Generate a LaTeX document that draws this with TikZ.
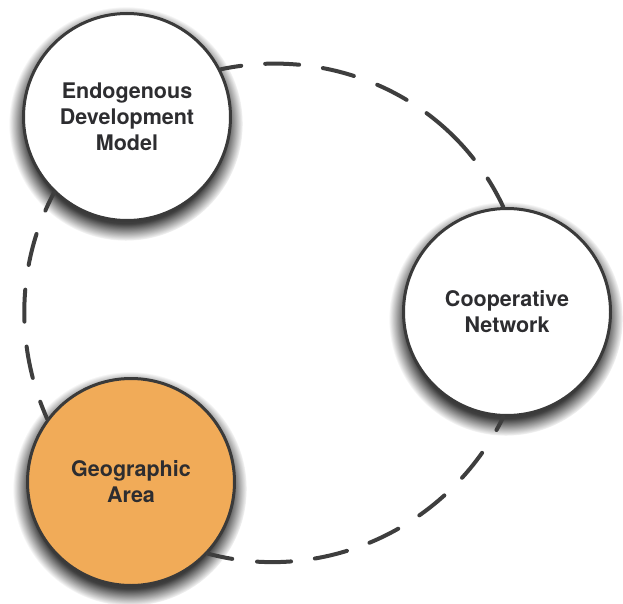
\documentclass[tikz,border=0pt]{standalone}
\usepackage{fontspec}
\setsansfont{TeX Gyre Heros}
\usetikzlibrary{shadows,fadings}
\definecolor{linec}{RGB}{58,58,58}
\definecolor{dashc}{RGB}{62,62,62}
\definecolor{textc}{RGB}{45,45,48}
\definecolor{orangec}{RGB}{241,171,88}
\tikzset{
  bubble/.style={circle, draw=linec, line width=3pt, minimum size=207pt,
    inner sep=0pt, fill=white, align=center, text=textc,
    font=\sffamily\bfseries\fontsize{21.5}{26}\selectfont,
    circular drop shadow={shadow scale=1.13, shadow xshift=-1pt,
      shadow yshift=-6pt, opacity=0.95, fill=black!80}},
  conn/.style={draw=dashc, line width=4pt, line cap=round},
}
\begin{document}
\begin{tikzpicture}[x=1pt,y=1pt]
\useasboundingbox (0,0) rectangle (623,-604);
\node[bubble] (edm) at (127,-117) {Endogenous\\Development\\Model};
\node[bubble] (cn) at (507,-312) {Cooperative\\Network};
\node[bubble, fill=orangec] (ga) at (131,-482) {Geographic\\Area};
% top arc
\draw[conn, dash pattern=on 21pt off 24pt on 34pt off 24pt on 32pt off 25pt on 33pt off 24pt on 66pt off 24pt on 60pt off 40pt]
  (edm.27) to[out=12, in=115, looseness=0.96] (cn.92);
% bottom arc
\draw[conn, dash pattern=on 25pt off 25pt on 34pt off 24pt on 33pt off 24pt on 32pt off 25pt on 32pt off 25pt on 32pt off 27pt on 40pt off 40pt]
  (ga.-43.5) to[out=-15, in=-116, looseness=0.96] (cn.-92);
% left arc
\draw[conn, dash pattern=on 20pt off 25pt on 32pt off 25pt on 32pt off 25pt on 32pt off 25pt on 30pt off 40pt]
  (edm.226) to[out=242, in=114, looseness=0.9] (ga.143);
\end{tikzpicture}
\end{document}
